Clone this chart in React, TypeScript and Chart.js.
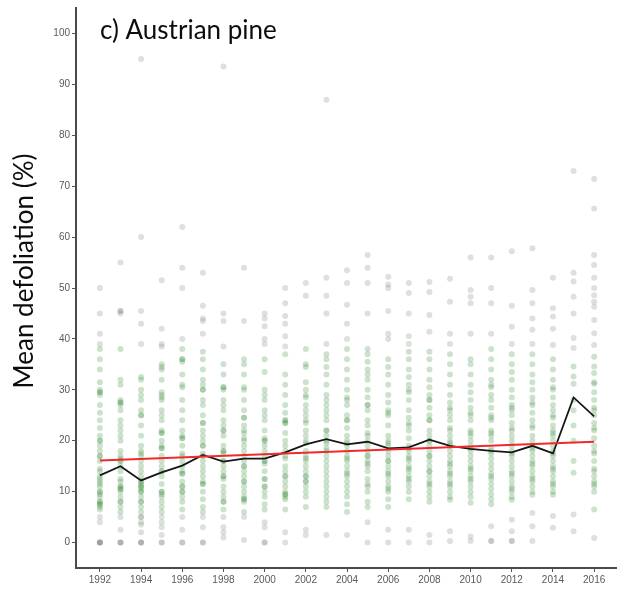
import React, { useEffect, useRef } from "react";
import { Chart, registerables } from "chart.js";

Chart.register(...registerables);

const years = [1992, 1993, 1994, 1995, 1996, 1997, 1998, 1999, 2000, 2001, 2002, 2003, 2004, 2005, 2006, 2007, 2008, 2009, 2010, 2011, 2012, 2013, 2014, 2015, 2016];
const meanDefoliation = [13.2, 15.0, 12.2, 13.8, 15.1, 17.2, 15.9, 16.5, 16.5, 17.7, 19.3, 20.3, 19.3, 19.8, 18.5, 18.7, 20.2, 19.0, 18.4, 18.0, 17.7, 19.0, 17.5, 28.5, 24.8];
const trendYears = [1992, 2016];
const trendValues = [16.1, 19.8];
const xTicks = [1992, 1994, 1996, 1998, 2000, 2002, 2004, 2006, 2008, 2010, 2012, 2014, 2016];
const yTicks = [0, 10, 20, 30, 40, 50, 60, 70, 80, 90, 100];
const chartTitle = "c) Austrian pine";
const yAxisTitle = "Mean defoliation (%)";

const y1992 = [50, 45, 41, 39, 38, 36, 34, 31.5, 30, 29.5, 29, 27, 25.5, 24, 22.5, 21, 20, 19, 18, 17, 16, 14.5, 14, 12.5, 11.5, 11, 10, 9.5, 9, 8, 7.5, 7, 6.5, 5, 4, 0, 0, 0, 0, 29.5, 20, 17, 12, 10, 8, 7.5, 13];
const y1993 = [55, 45.5, 45, 38, 32, 31, 28, 27.5, 27, 26, 24, 23, 22, 20, 18, 17, 16.5, 16, 15, 14, 12.5, 12, 11, 10.5, 10, 9, 8, 7, 6, 5, 2.5, 0, 0, 0, 45.5, 27.5, 16, 11, 10.5, 8, 21];
const y1994 = [95, 60, 45.5, 43, 39, 32.5, 32, 30, 29, 28, 26, 25, 23, 21, 19, 18, 17, 16, 15, 14, 13, 12, 11.5, 11, 10.5, 10, 9, 8, 7, 6, 5, 4, 3.5, 2, 0, 0, 0, 17.5, 12, 11, 10, 8, 5, 25];
const y1995 = [51.5, 42, 39, 38.5, 35, 34.5, 34, 32, 29.5, 29, 28, 26, 25, 24, 22, 21.5, 20, 19, 18.5, 17, 16, 15, 14, 13, 11.5, 10, 9, 8, 7, 6, 5, 4, 3, 1.5, 0, 0, 21.5, 18.5, 14, 10, 9.5, 28.5];
const y1996 = [62, 54, 50, 40, 38, 36, 35.5, 33, 31, 30.5, 28, 26, 24, 22, 21, 20.5, 19, 17, 16, 15, 14, 13.5, 12, 11, 10, 9, 8, 6.5, 5, 2.5, 0, 0, 20.5, 13.5, 11, 10, 36, 17.5];
const y1997 = [53, 46.5, 44, 43.5, 41, 37.5, 36, 34, 32, 31, 30, 28, 27, 25, 23.5, 22, 21, 20, 19, 17.5, 16, 15, 14, 13, 12, 11.5, 10, 8.5, 7, 6, 5, 3, 0, 0, 23.5, 17, 11.5, 30, 19];
const y1998 = [93.5, 45, 43.5, 38.5, 35, 33, 30.5, 30, 28, 27, 26, 24, 23, 22, 21, 19, 18, 17.5, 16, 15, 14, 13, 12.5, 11, 10, 9, 8, 6.5, 5, 3, 2, 1, 30.5, 22, 16, 13, 8, 18];
const y1999 = [54, 43.5, 36, 35, 33, 30.5, 30, 28, 26, 24.5, 23, 22, 21.5, 20, 19, 17, 16, 15, 14, 13, 12, 11, 10, 9, 8.5, 8, 6, 5, 0.5, 24.5, 15, 12, 8.5, 18, 20.5];
const y2000 = [45, 44, 42.5, 40, 39, 36, 33.5, 30, 29, 28, 26, 24, 22, 20.5, 20, 19, 17, 16, 15.5, 14, 12.5, 11, 10, 9, 7.5, 6.5, 4, 3, 0, 0, 20, 16, 12.5, 11, 18, 25];
const y2001 = [50, 47, 44.5, 43, 40.5, 38.5, 37, 33, 31, 29, 27, 25.5, 24, 23.5, 21.5, 20, 18, 17, 16.5, 15, 14, 13, 12, 10, 9.5, 9, 8.5, 6.5, 2, 0, 24, 23.5, 13, 9.5, 19, 11];
const y2002 = [51, 48.5, 38, 35, 34.5, 31.5, 30, 28.5, 27, 26, 25, 23.5, 22, 21, 19.5, 18, 17, 16, 15, 14, 13, 12, 10, 9, 7, 2.5, 1.5, 13, 12, 20, 24, 29, 16.5, 11];
const y2003 = [87, 52, 48.5, 45, 39, 37, 36, 34.5, 33, 31, 29, 28, 26, 25, 24, 22, 21, 20, 19.5, 18, 17, 15, 14, 12, 11, 10, 8, 7, 1.5, 16, 13, 22, 18.5, 27, 9];
const y2004 = [53.5, 51, 46.7, 43, 40, 38, 36, 34, 32, 30, 28, 27, 25, 24, 22.5, 21, 20, 19, 18, 17, 16, 15, 14, 13, 12, 10, 9, 7.5, 6, 1.5, 24, 16.5, 13.5, 19.5, 28.5, 11];
const y2005 = [56.5, 54, 51, 45, 38, 37, 35.5, 34, 32, 30, 28.5, 27, 26, 24, 23, 21, 20, 19, 18, 17, 16, 15, 14, 12.5, 11, 10, 8, 7, 4, 0, 27, 17, 15.5, 21.5, 33, 11.5];
const y2006 = [52.2, 50.7, 50, 45.5, 41, 40, 36, 34.5, 33, 31, 29, 27.5, 26, 25, 23, 21, 20, 19, 18, 17, 16, 15, 14, 13, 12, 11, 10, 8.5, 7, 2.5, 0, 16, 13.5, 19.5, 25.5, 10.5];
const y2007 = [51, 49, 45, 40.5, 39, 37.5, 36, 34, 32.5, 31, 29.5, 28, 26, 24.5, 23, 22, 20.5, 19, 18, 17, 16, 15, 14, 13, 12, 11, 10, 8.5, 2.5, 0, 18.5, 14.5, 23.5, 12.5, 30, 16.5];
const y2008 = [51.2, 49.2, 44.7, 41.4, 37.5, 36, 34, 32, 30.5, 29, 28, 26.5, 25, 24, 22, 21, 20, 19, 18, 17, 16, 15, 14, 13, 12, 11, 10, 9, 8, 1.5, 0, 20, 14, 24, 17, 11.5, 28];
const y2009 = [51.8, 47.3, 41, 39, 37, 35, 33, 31, 29, 27.5, 26, 25, 24, 22.5, 21, 20, 19, 18, 17, 16, 15, 14, 13, 12, 11, 10, 9, 8.4, 2.2, 0.3, 19.5, 15.5, 22, 13.5, 26.5, 11.5];
const y2010 = [56, 49.6, 48.3, 47, 41, 36, 35, 33, 31, 29.5, 28, 26.5, 25, 24, 22, 21, 20, 19, 18, 17, 16, 15, 14, 13, 12, 11, 10, 9, 7.8, 1.2, 0.3, 18.5, 14.5, 21.5, 25.5, 12.5];
const y2011 = [56, 50, 47, 41, 38, 36, 34, 32, 30.5, 29, 28, 26.5, 25, 24, 22, 21, 20, 18.5, 17.5, 16.5, 15.5, 14.5, 13.5, 12.5, 11.5, 10.5, 9.5, 8.5, 7.5, 3.2, 0.3, 0.3, 18, 13, 21.5, 24.5, 31];
const y2012 = [57.2, 46.5, 42.4, 39, 37, 35, 33.5, 32, 30, 28.5, 27, 26, 25, 23.5, 22, 21, 20, 19, 18, 17, 16, 15, 14, 13, 12, 11, 10, 9, 8.4, 4.5, 2.2, 0.3, 0.3, 17.5, 13.5, 22.5, 26.5, 10.5];
const y2013 = [57.8, 49.6, 47, 44, 41.8, 39, 37, 35, 33, 31.5, 30, 28.5, 27, 25.5, 24, 22.5, 21, 20, 19, 18, 17, 16, 15, 14, 13, 12, 11, 10, 9.4, 5.8, 3.2, 0.3, 18.5, 15.5, 23, 12.5, 27.5];
const y2014 = [52, 46, 44.4, 42, 38.8, 36, 34, 32, 30, 28.5, 27, 26, 24.5, 23, 22, 21, 20, 19, 18, 17, 16, 15, 14, 13, 12, 11, 10, 9.4, 5.2, 2.9, 17.5, 14.5, 21.5, 25, 11.5, 30.5];
const y2015 = [73, 53, 51.3, 48.3, 45, 40.2, 38.2, 34.6, 32.6, 31.2, 28, 26, 23, 20, 16, 13.7, 5.5, 2.2];
const y2016 = [71.4, 65.6, 56.5, 54.5, 52, 50, 48.6, 47.3, 46.3, 43.7, 41.1, 38.8, 36.5, 34.6, 33.3, 31.2, 29.5, 28, 26.5, 25, 23.5, 22, 20.5, 19, 17.5, 16, 14.5, 13, 12, 11, 10, 6.5, 0.9, 22.5, 18, 14, 26, 31.5, 11.5];

const plotValues = [y1992, y1993, y1994, y1995, y1996, y1997, y1998, y1999, y2000, y2001, y2002, y2003, y2004, y2005, y2006, y2007, y2008, y2009, y2010, y2011, y2012, y2013, y2014, y2015, y2016];

const titlesPlugin = {
  id: "titles",
  afterDraw(chart: any) {
    const { ctx, chartArea } = chart;
    ctx.save();
    ctx.fillStyle = "#0d0d0d";
    ctx.font = "26px Lato, 'Open Sans', sans-serif";
    ctx.textAlign = "left";
    ctx.textBaseline = "alphabetic";
    ctx.fillText(chartTitle, chartArea.left + 24, chartArea.top + 31, 186);
    ctx.translate(33, 271);
    ctx.rotate(-Math.PI / 2);
    ctx.textAlign = "center";
    ctx.fillText(yAxisTitle, 0, 0, 247);
    ctx.restore();
  },
};

export default function App() {
  const ref = useRef<HTMLCanvasElement>(null);
  useEffect(() => {
    const points = years.flatMap((yr, i) => plotValues[i].map((v) => ({ x: yr, y: v })));
    const tickFont = { size: 10, family: "'Liberation Sans', Arial, sans-serif" };
    const chart = new Chart(ref.current as HTMLCanvasElement, {
      type: "scatter",
      data: {
        datasets: [
          {
            type: "line",
            data: trendYears.map((x, i) => ({ x, y: trendValues[i] })),
            borderColor: "#f02a2a",
            borderWidth: 2,
            pointRadius: 0,
            order: 0,
          } as any,
          {
            type: "line",
            data: years.map((x, i) => ({ x, y: meanDefoliation[i] })),
            borderColor: "#161616",
            borderWidth: 1.8,
            pointRadius: 0,
            tension: 0,
            order: 1,
          } as any,
          {
            data: points,
            pointRadius: 3,
            pointBorderWidth: 0,
            pointBackgroundColor: (c: any) => {
              const v = c.raw ? c.raw.y : 0;
              return v >= 6 && v <= 38 ? "rgba(45,135,45,0.24)" : "rgba(85,100,85,0.2)";
            },
            order: 2,
          } as any,
        ],
      },
      options: {
        animation: false,
        responsive: false,
        devicePixelRatio: 1,
        layout: { padding: { top: 8, right: 0, bottom: 0, left: 0 } },
        plugins: { legend: { display: false }, tooltip: { enabled: false } },
        scales: {
          x: {
            type: "linear",
            min: 1990.84,
            max: 2017.06,
            afterBuildTicks: (s: any) => {
              s.ticks = xTicks.map((value) => ({ value }));
            },
            afterFit: (s: any) => {
              s.height = 22;
            },
            ticks: {
              color: "#595959",
              font: tickFont,
              padding: 2,
              maxRotation: 0,
              autoSkip: false,
              callback: (v: any) => String(v),
            },
            grid: { display: true, drawOnChartArea: false, drawTicks: true, tickLength: 4, tickColor: "#555" },
            border: { display: true, color: "#4a4a4a", width: 2 },
          },
          y: {
            type: "linear",
            min: -5,
            max: 105,
            afterBuildTicks: (s: any) => {
              s.ticks = yTicks.map((value) => ({ value }));
            },
            afterFit: (s: any) => {
              s.width = 76;
            },
            ticks: {
              color: "#595959",
              font: tickFont,
              padding: 2,
              callback: (v: any) => String(v),
            },
            grid: { display: true, drawOnChartArea: false, drawTicks: true, tickLength: 4, tickColor: "#555" },
            border: { display: true, color: "#4a4a4a", width: 2 },
          },
        },
      },
      plugins: [titlesPlugin],
    } as any);
    return () => chart.destroy();
  }, []);
  return (
    <div style={{ position: "absolute", left: 0, top: 0, width: 620, height: 590, background: "#fff" }}>
      <canvas ref={ref} width={620} height={590} style={{ display: "block" }} />
    </div>
  );
}
